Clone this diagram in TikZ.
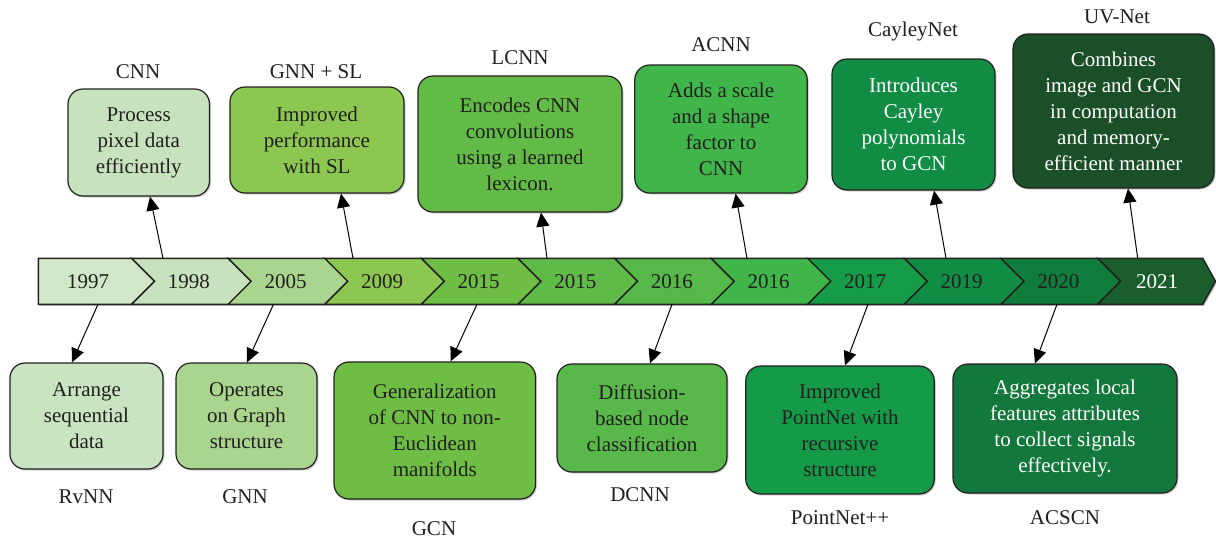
\documentclass[tikz,border=0pt]{standalone}
\usepackage{fontspec}
\setmainfont{Liberation Serif}
\usetikzlibrary{arrows.meta,shadows}

% palette
\definecolor{inkc}{HTML}{231F20}
\definecolor{ya}{HTML}{D0E8C8}
\definecolor{yb}{HTML}{C7E3BD}
\definecolor{yc}{HTML}{A9D58F}
\definecolor{yd}{HTML}{8BC751}
\definecolor{ye}{HTML}{6EBE45}
\definecolor{yf}{HTML}{60BA47}
\definecolor{yg}{HTML}{55B848}
\definecolor{yh}{HTML}{40B54A}
\definecolor{yi}{HTML}{169B48}
\definecolor{yj}{HTML}{118C44}
\definecolor{yk}{HTML}{107D3C}
\definecolor{yl}{HTML}{1B5E2E}
\definecolor{bxcnn}{HTML}{C7E3BD}
\definecolor{bxsl}{HTML}{8BC751}
\definecolor{bxlcnn}{HTML}{62BB46}
\definecolor{bxacnn}{HTML}{40B54A}
\definecolor{bxcay}{HTML}{118C44}
\definecolor{bxuv}{HTML}{1A4F27}
\definecolor{bxrv}{HTML}{C9E4C0}
\definecolor{bxgnn}{HTML}{A9D58F}
\definecolor{bxgcn}{HTML}{6EBE45}
\definecolor{bxdcnn}{HTML}{58B94A}
\definecolor{bxpn}{HTML}{159A48}
\definecolor{bxacs}{HTML}{13783B}

\begin{document}
\begin{tikzpicture}[x=1pt,y=-1pt,
  infobox/.style={rectangle, rounded corners=15pt, draw=inkc, line width=1.2pt,
    inner sep=0pt, align=center, text=inkc,
    font=\fontsize{21}{26}\selectfont,
    drop shadow={shadow xshift=1.5pt, shadow yshift=-1.5pt, opacity=0.3, fill=black!60}},
  modelname/.style={font=\fontsize{21}{24}\selectfont, text=inkc, inner sep=0pt},
  yearlbl/.style={font=\fontsize{21}{24}\selectfont, text=inkc, inner sep=0pt},
  link/.style={draw=black, line width=1pt, -{Triangle[length=14pt,width=13pt]}},
  segline/.style={draw=inkc, line width=1.4pt, line join=miter},
]
\useasboundingbox (0,0) rectangle (1216,539);
\fill[white] (0,0) rectangle (1216,539);

% ---------- timeline bar ----------
\def\bt{258.3}\def\bm{281.3}\def\bb{304.3}
% soft shadow under the bar
\fill[black, opacity=0.25] (39.8,\bt+1.5) -- (1204.2,\bt+1.5) -- (1217,\bm+1.5)
  -- (1204.2,\bb+1.5) -- (39.8,\bb+1.5) -- cycle;
% first segment (flat back)
\path[segline, fill=ya] (38.3,\bt) -- (131.6,\bt) -- (154.6,\bm) -- (131.6,\bb)
  -- (38.3,\bb) -- cycle;
% middle chevrons
\foreach \k/\col in {1/yb,2/yc,3/yd,4/ye,5/yf,6/yg,7/yh,8/yi,9/yj,10/yk}{
  \pgfmathsetmacro{\bl}{131.6+96.6*(\k-1)}
  \pgfmathsetmacro{\br}{\bl+96.6}
  \path[segline, fill=\col] (\bl,\bt) -- (\br,\bt) -- (\br+23,\bm) -- (\br,\bb)
    -- (\bl,\bb) -- (\bl+23,\bm) -- cycle;
}
% last segment with the arrow point
\path[segline, fill=yl] (1097.6,\bt) -- (1202.7,\bt) -- (1215.5,\bm) -- (1202.7,\bb)
  -- (1097.6,\bb) -- (1120.6,\bm) -- cycle;

% year labels
\node[yearlbl] (y1) at (88,\bm) {1997};
\foreach \k/\yr in {1/1998,2/2005,3/2009,4/2015,5/2015,6/2016,7/2016,8/2017,9/2019,10/2020}{
  \pgfmathsetmacro{\cx}{131.6+96.6*(\k-1)+48.3+9}
  \pgfmathtruncatemacro{\nm}{\k+1}
  \node[yearlbl] (y\nm) at (\cx,\bm) {\yr};
}
\node[yearlbl, text=white] (y12) at (1157,\bm) {2021};

% ---------- upper boxes ----------
\node[infobox, fill=bxcnn, minimum width=141.5pt, minimum height=107pt] (cnn) at (138.75,142.5)
  {Process\\pixel data\\efficiently};
\node[infobox, fill=bxsl, minimum width=174pt, minimum height=106pt] (gnnsl) at (317,140)
  {Improved\\performance\\with SL};
\node[infobox, fill=bxlcnn, minimum width=204pt, minimum height=136pt] (lcnn) at (520,144)
  {Encodes CNN\\convolutions\\using a learned\\lexicon.};
\node[infobox, fill=bxacnn, minimum width=172.5pt, minimum height=128pt] (acnn) at (721,129)
  {Adds a scale\\and a shape\\factor to\\CNN};
\node[infobox, fill=bxcay, text=white, minimum width=163pt, minimum height=131pt] (cay) at (913.5,124.5)
  {Introduces\\Cayley\\polynomials\\to GCN};
\node[infobox, fill=bxuv, text=white, minimum width=201pt, minimum height=154pt] (uv) at (1113.5,111)
  {Combines\\image and GCN\\in computation\\and memory-\\efficient manner};

\node[modelname] (cnnname) at (138,72) {CNN};
\node[modelname] (slname) at (316,72) {GNN + SL};
\node[modelname] (lcname) at (520,58) {LCNN};
\node[modelname] (acname) at (721,45) {ACNN};
\node[modelname] (cayname) at (913,31) {CayleyNet};
\node[modelname] (uvname) at (1117,17) {UV-Net};

% ---------- lower boxes ----------
\node[infobox, fill=bxrv, minimum width=153pt, minimum height=106pt] (rv) at (86.5,416)
  {Arrange\\sequential\\data};
\node[infobox, fill=bxgnn, minimum width=141pt, minimum height=106pt] (gnn) at (246.5,416)
  {Operates\\on Graph\\structure};
\node[infobox, fill=bxgcn, minimum width=201.5pt, minimum height=137pt] (gcn) at (434.75,430.5)
  {Generalization\\of CNN to non-\\Euclidean\\manifolds};
\node[infobox, fill=bxdcnn, minimum width=170pt, minimum height=108pt] (dcnn) at (642,418)
  {Diffusion-\\based node\\classification};
\node[infobox, fill=bxpn, minimum width=188.5pt, minimum height=128pt] (pn) at (840,430)
  {Improved\\PointNet with\\recursive\\structure};
\node[infobox, fill=bxacs, text=white, minimum width=224pt, minimum height=129pt] (acs) at (1065,428.5)
  {Aggregates local\\features attributes\\to collect signals\\effectively.};

\node[modelname] (rvname) at (86,497) {RvNN};
\node[modelname] (gnnname) at (245,497) {GNN};
\node[modelname] (gcnname) at (434,529) {GCN};
\node[modelname] (dcname) at (640,495) {DCNN};
\node[modelname] (pnname) at (840,518) {PointNet++};
\node[modelname] (acsname) at (1065,518) {ACSCN};

% ---------- connectors ----------
\coordinate (u2) at (163,\bt);
\coordinate (u4) at (353,\bt);
\coordinate (u6) at (547,\bt);
\coordinate (u8) at (747,\bt);
\coordinate (u10) at (946,\bt);
\coordinate (u12) at (1137.7,\bt);
\coordinate (d1) at (98,\bb);
\coordinate (d3) at (273.5,\bb);
\coordinate (d5) at (477,\bb);
\coordinate (d7) at (672,\bb);
\coordinate (d9) at (868,\bb);
\coordinate (d11) at (1057,\bb);

\draw[link] (u2) -- ([xshift=11.25pt]cnn.south);
\draw[link] (u4) -- ([xshift=24pt]gnnsl.south);
\draw[link] (u6) -- ([xshift=21pt]lcnn.south);
\draw[link] (u8) -- ([xshift=14.6pt]acnn.south);
\draw[link] (u10) -- ([xshift=20.5pt]cay.south);
\draw[link] (u12) -- ([xshift=14.5pt]uv.south);

\draw[link] (d1) -- ([xshift=-14.5pt]rv.north);
\draw[link] (d3) -- ([xshift=0.5pt]gnn.north);
\draw[link] (d5) -- ([xshift=15.85pt]gcn.north);
\draw[link] (d7) -- ([xshift=8pt]dcnn.north);
\draw[link] (d9) -- ([xshift=5pt]pn.north);
\draw[link] (d11) -- ([xshift=-30pt]acs.north);
\end{tikzpicture}
\end{document}
